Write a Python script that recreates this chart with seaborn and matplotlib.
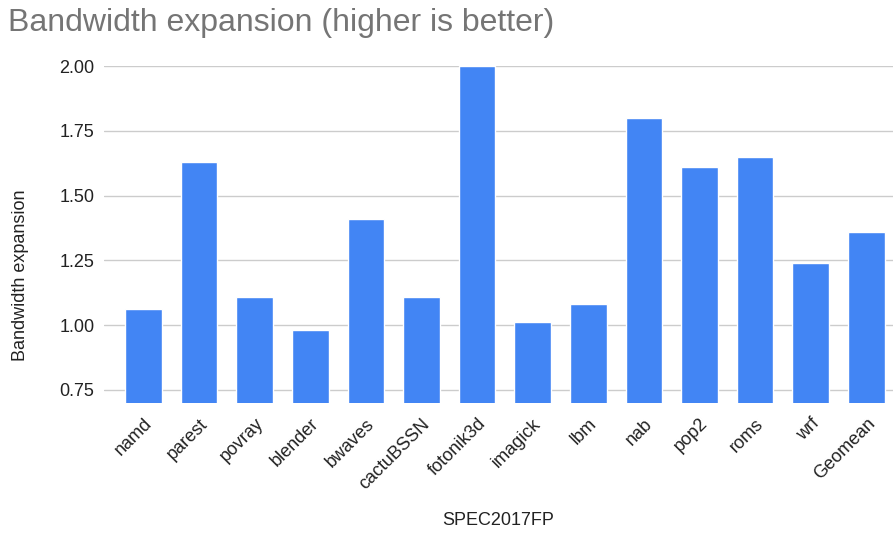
import pandas as pd
import seaborn as sns
import matplotlib.pyplot as plt

benchmarks = ['namd', 'parest', 'povray', 'blender', 'bwaves', 'cactuBSSN',
              'fotonik3d', 'imagick', 'lbm', 'nab', 'pop2', 'roms', 'wrf',
              'Geomean']
expansion = [1.06, 1.63, 1.11, 0.98, 1.41, 1.11,
             2.00, 1.01, 1.08, 1.80, 1.61, 1.65, 1.24,
             1.36]
yticks = [0.75, 1.00, 1.25, 1.50, 1.75, 2.00]


def main():
    df = pd.DataFrame({'SPEC2017FP': benchmarks, 'Bandwidth expansion': expansion})

    sns.set_style('white')
    plt.rcParams['font.family'] = ['Liberation Sans', 'DejaVu Sans']

    fig = plt.figure(figsize=(8.93, 5.35), dpi=100)
    ax = fig.add_axes([0.1165, 0.2473, 0.8835, 0.6293])

    sns.barplot(data=df, x='SPEC2017FP', y='Bandwidth expansion',
                color='#4285F4', saturation=1, width=0.66, ax=ax, zorder=3)

    ax.set_ylim(0.7, 2.0)
    ax.set_xlim(-0.71, 13.48)
    ax.set_yticks(yticks)
    ax.set_yticklabels([f'{t:.2f}' for t in yticks])
    ax.yaxis.grid(True, color='#cccccc', linewidth=1, zorder=0)
    ax.set_axisbelow(True)
    for s in ax.spines.values():
        s.set_visible(False)

    ax.tick_params(axis='y', length=0, pad=7, labelsize=13, labelcolor='#222222')
    ax.tick_params(axis='x', length=0, pad=9, labelsize=13, labelcolor='#222222')
    for lbl in ax.get_xticklabels():
        lbl.set_rotation(45)
        lbl.set_ha('right')
        lbl.set_rotation_mode('anchor')

    ax.set_xlabel('SPEC2017FP', fontsize=13, color='#222222', labelpad=14)
    ax.set_ylabel('Bandwidth expansion', fontsize=13, color='#222222')
    ax.yaxis.set_label_coords(-0.095, 0.38)

    fig.text(0.009, 0.957, 'Bandwidth expansion (higher is better)',
             fontsize=23, color='#757575', va='center', ha='left')

    fig.savefig('out.png', dpi=100)


if __name__ == '__main__':
    main()
